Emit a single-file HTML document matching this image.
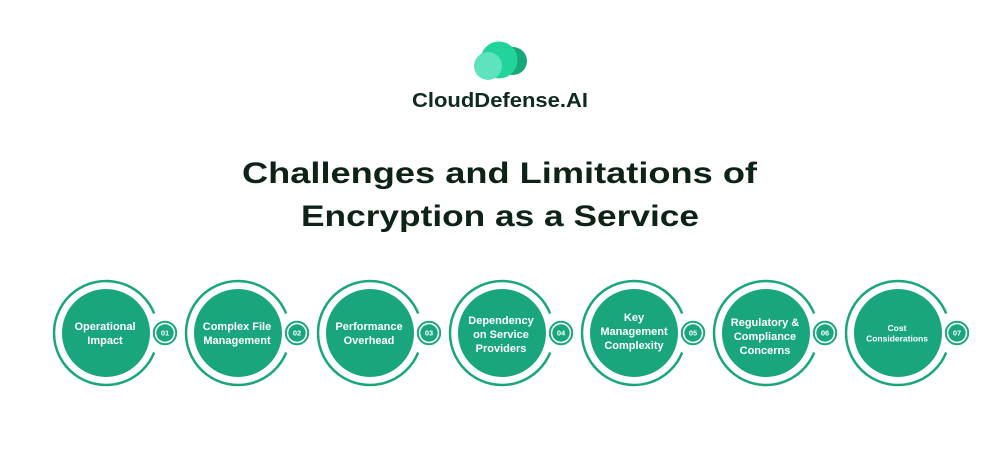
<!DOCTYPE html>
<html><head><meta charset="utf-8">
<style>
html,body{margin:0;padding:0;background:#fff;}
svg{display:block;}
text{font-family:"Liberation Sans",sans-serif;font-weight:bold;}
</style></head>
<body>
<svg width="1000" height="475" viewBox="0 0 1000 475" xmlns="http://www.w3.org/2000/svg">
<rect width="1000" height="475" fill="#fff"/>
<!-- logo -->
<circle cx="513" cy="61" r="14" fill="#16a878"/>
<circle cx="499" cy="60" r="18.5" fill="#22d49b"/>
<circle cx="488" cy="66" r="14" fill="#5fe3bf"/>
<text x="412" y="107" font-size="20" fill="#0f2a1f" textLength="176" lengthAdjust="spacingAndGlyphs">CloudDefense.AI</text>
<!-- title -->
<text x="242" y="183" font-size="30" fill="#0e2318" textLength="515" lengthAdjust="spacingAndGlyphs">Challenges and Limitations of</text>
<text x="301" y="226" font-size="30" fill="#0e2318" textLength="398" lengthAdjust="spacingAndGlyphs">Encryption as a Service</text>

<g fill="none" stroke="#19a67d" stroke-width="2.5">
<path d="M154.2 313.5 A52 52 0 1 0 154.2 352.5"/>
<path d="M286.2 313.5 A52 52 0 1 0 286.2 352.5"/>
<path d="M418.2 313.5 A52 52 0 1 0 418.2 352.5"/>
<path d="M550.2 313.5 A52 52 0 1 0 550.2 352.5"/>
<path d="M682.2 313.5 A52 52 0 1 0 682.2 352.5"/>
<path d="M814.2 313.5 A52 52 0 1 0 814.2 352.5"/>
<path d="M946.2 313.5 A52 52 0 1 0 946.2 352.5"/>
</g>
<g fill="#19a67d">
<circle cx="106" cy="333" r="44"/>
<circle cx="238" cy="333" r="44"/>
<circle cx="370" cy="333" r="44"/>
<circle cx="502" cy="333" r="44"/>
<circle cx="634" cy="333" r="44"/>
<circle cx="766" cy="333" r="44"/>
<circle cx="898" cy="333" r="44"/>
</g>
<!-- badges -->
<g>
<g fill="none" stroke="#19a67d" stroke-width="2">
<circle cx="165" cy="333" r="11.2"/>
<circle cx="297" cy="333" r="11.2"/>
<circle cx="429" cy="333" r="11.2"/>
<circle cx="561" cy="333" r="11.2"/>
<circle cx="693" cy="333" r="11.2"/>
<circle cx="825" cy="333" r="11.2"/>
<circle cx="957" cy="333" r="11.2"/>
</g>
<g fill="#19a67d">
<circle cx="165" cy="333" r="8.7"/>
<circle cx="297" cy="333" r="8.7"/>
<circle cx="429" cy="333" r="8.7"/>
<circle cx="561" cy="333" r="8.7"/>
<circle cx="693" cy="333" r="8.7"/>
<circle cx="825" cy="333" r="8.7"/>
<circle cx="957" cy="333" r="8.7"/>
</g>
<g fill="#fff" font-size="7.5" text-anchor="middle">
<text x="165" y="335.7">01</text>
<text x="297" y="335.7">02</text>
<text x="429" y="335.7">03</text>
<text x="561" y="335.7">04</text>
<text x="693" y="335.7">05</text>
<text x="825" y="335.7">06</text>
<text x="957" y="335.7">07</text>
</g>
</g>
<!-- labels -->
<g fill="#fff" font-size="11" text-anchor="middle">
<text x="105" y="330">Operational</text>
<text x="105" y="344">Impact</text>
<text x="237" y="330">Complex File</text>
<text x="237" y="344">Management</text>
<text x="369" y="330">Performance</text>
<text x="369" y="344">Overhead</text>
<text x="501" y="324">Dependency</text>
<text x="501" y="338">on Service</text>
<text x="501" y="352">Providers</text>
<text x="634" y="321">Key</text>
<text x="634" y="335">Management</text>
<text x="634" y="349">Complexity</text>
<text x="765" y="326">Regulatory &amp;</text>
<text x="765" y="340">Compliance</text>
<text x="765" y="354">Concerns</text>
</g>
<g fill="#fff" font-size="8.5" text-anchor="middle">
<text x="897" y="331">Cost</text>
<text x="897" y="341.5">Considerations</text>
</g>
</svg>
</body></html>
